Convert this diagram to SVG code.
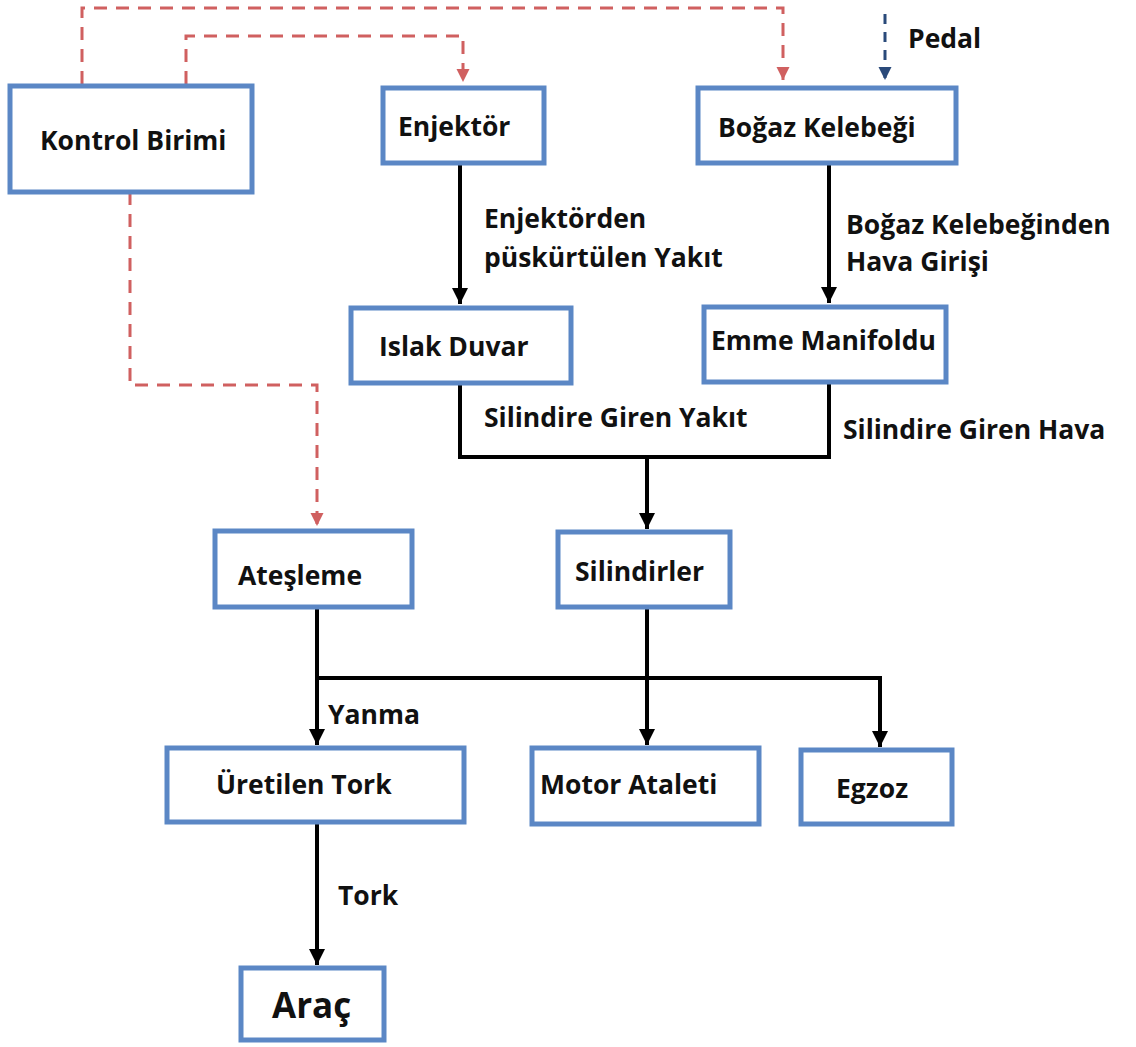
<svg xmlns="http://www.w3.org/2000/svg" width="1136" height="1047" viewBox="0 0 1136 1047">
<style>
.box{fill:#fff;stroke:#5b87c5;stroke-width:5}
.t{font-family:"Open Sans",Lato,"Liberation Sans",sans-serif;font-weight:bold;font-size:26.5px;fill:#111}
.blk{fill:none;stroke:#000;stroke-width:4}
.red{fill:none;stroke:#d06060;stroke-width:3;stroke-dasharray:13 9}
.nav{fill:none;stroke:#2a4a7a;stroke-width:3;stroke-dasharray:10 8}
</style>
<defs>
<marker id="ab" viewBox="0 0 10 10" refX="10" refY="5" markerWidth="4" markerHeight="4" orient="auto" markerUnits="strokeWidth"><path d="M0,0 L10,5 L0,10 z" fill="#000"/></marker>
<marker id="ar" viewBox="0 0 10 10" refX="10" refY="5" markerWidth="4.5" markerHeight="4.5" orient="auto" markerUnits="strokeWidth"><path d="M0,0 L10,5 L0,10 z" fill="#d06060"/></marker>
<marker id="an" viewBox="0 0 10 10" refX="10" refY="5" markerWidth="4.5" markerHeight="4.5" orient="auto" markerUnits="strokeWidth"><path d="M0,0 L10,5 L0,10 z" fill="#2a4a7a"/></marker>
</defs>
<rect width="1136" height="1047" fill="#fff"/>
<g id="connectors">
<path class="red" d="M82,84 V8 H783 V80" marker-end="url(#ar)"/>
<path class="red" d="M186,84 V36 H463 V82" marker-end="url(#ar)"/>
<path class="red" d="M130,192 V385 H317 V526" marker-end="url(#ar)"/>
<path class="nav" d="M885,14 V80" marker-end="url(#an)"/>
<path class="blk" d="M460,163 V304" marker-end="url(#ab)"/>
<path class="blk" d="M829,163 V303" marker-end="url(#ab)"/>
<path class="blk" d="M460,383 V457 H829 V382"/>
<path class="blk" d="M647,457 V529" marker-end="url(#ab)"/>
<path class="blk" d="M317,607 V745" marker-end="url(#ab)"/>
<path class="blk" d="M647,607 V745" marker-end="url(#ab)"/>
<path class="blk" d="M317,678 H880 V747" marker-end="url(#ab)"/>
<path class="blk" d="M317,822 V965" marker-end="url(#ab)"/>
<text class="t" x="908" y="48">Pedal</text>
<text class="t" x="484" y="228">Enjektörden</text>
<text class="t" x="484" y="267">püskürtülen Yakıt</text>
<text class="t" x="846" y="234">Boğaz Kelebeğinden</text>
<text class="t" x="846" y="271">Hava Girişi</text>
<text class="t" x="484" y="427">Silindire Giren Yakıt</text>
<text class="t" x="843" y="439">Silindire Giren Hava</text>
<text class="t" x="328" y="724">Yanma</text>
<text class="t" x="338" y="905">Tork</text>
</g>
<g id="kontrol"><rect class="box" x="10" y="86" width="242" height="106"/><text class="t" x="40" y="150">Kontrol Birimi</text></g>
<g id="enjektor"><rect class="box" x="383" y="88" width="161" height="75"/><text class="t" x="398" y="136">Enjektör</text></g>
<g id="bogaz"><rect class="box" x="698" y="88" width="258" height="75"/><text class="t" x="718" y="137">Boğaz Kelebeği</text></g>
<g id="islak"><rect class="box" x="351" y="308" width="220" height="75"/><text class="t" x="379" y="356">Islak Duvar</text></g>
<g id="emme"><rect class="box" x="704" y="307" width="242" height="75"/><text class="t" x="711" y="350">Emme Manifoldu</text></g>
<g id="atesleme"><rect class="box" x="215" y="531" width="197" height="76"/><text class="t" x="238" y="585">Ateşleme</text></g>
<g id="silindirler"><rect class="box" x="558" y="532" width="172" height="75"/><text class="t" x="575" y="581">Silindirler</text></g>
<g id="uretilen"><rect class="box" x="167" y="748" width="297" height="74"/><text class="t" x="216" y="794">Üretilen Tork</text></g>
<g id="motor"><rect class="box" x="532" y="748" width="227" height="76"/><text class="t" x="540" y="794">Motor Ataleti</text></g>
<g id="egzoz"><rect class="box" x="801" y="750" width="151" height="74"/><text class="t" x="836" y="798">Egzoz</text></g>
<g id="arac"><rect class="box" x="241" y="968" width="143" height="72"/><text class="t" x="272" y="1018" style="font-size:35px">Araç</text></g>
</svg>
